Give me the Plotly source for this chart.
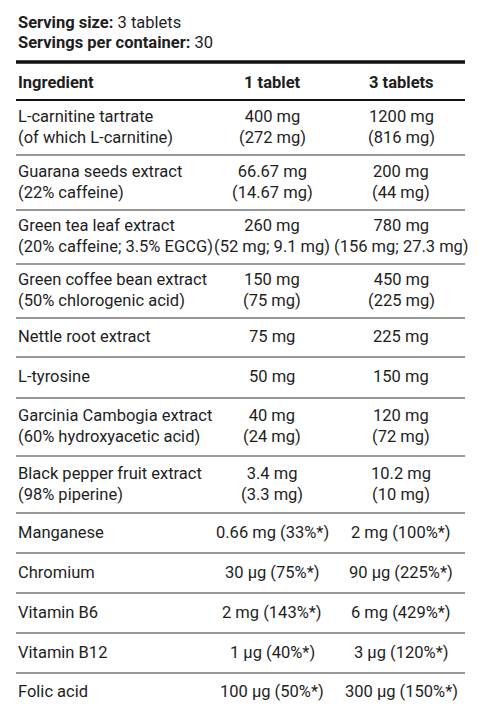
import plotly.graph_objects as go

ingredients = ["L-carnitine tartrate<br>(of which L-carnitine)", "Guarana seeds extract<br>(22% caffeine)",
               "Green tea leaf extract<br>(20% caffeine; 3.5% EGCG)", "Green coffee bean extract<br>(50% chlorogenic acid)",
               "Nettle root extract", "L-tyrosine", "Garcinia Cambogia extract<br>(60% hydroxyacetic acid)",
               "Black pepper fruit extract<br>(98% piperine)", "Manganese", "Chromium", "Vitamin B6", "Vitamin B12", "Folic acid"]
per_1_tablet = ["400 mg<br>(272 mg)", "66.67 mg<br>(14.67 mg)", "260 mg<br>(52 mg; 9.1 mg)", "150 mg<br>(75 mg)",
                "75 mg", "50 mg", "40 mg<br>(24 mg)", "3.4 mg<br>(3.3 mg)", "0.66 mg (33%*)", "30 µg (75%*)",
                "2 mg (143%*)", "1 µg (40%*)", "100 µg (50%*)"]
per_3_tablets = ["1200 mg<br>(816 mg)", "200 mg<br>(44 mg)", "780 mg<br>(156 mg; 27.3 mg)", "450 mg<br>(225 mg)",
                 "225 mg", "150 mg", "120 mg<br>(72 mg)", "10.2 mg<br>(10 mg)", "2 mg (100%*)", "90 µg (225%*)",
                 "6 mg (429%*)", "3 µg (120%*)", "300 µg (150%*)"]
headers = ["Ingredient", "1 tablet", "3 tablets"]
serving_size = "3 tablets"
servings_per_container = "30"

# layout (pixel positions in the 480x715 window)
seps = [100, 155, 210, 264, 318, 357, 398, 456, 513, 553, 593, 633, 673, 715]
XL, XR, C1, C2 = 16, 465, 272, 401
FONT = dict(family="Roboto", size=16.5, color="#1e1e1e")
OFF = 8  # default page body margin

fig = go.Figure()
ann = []
def add(x, y, t, anchor="left"):
    ann.append(dict(x=x, y=y, xref="x", yref="y", text=t, showarrow=False, xanchor=anchor,
                    yanchor="middle", align=anchor if anchor != "center" else "center", font=FONT))

add(XL, 22, f"<b>Serving size:</b> {serving_size}")
add(XL, 42, f"<b>Servings per container:</b> {servings_per_container}")
add(XL, 82, f"<b>{headers[0]}</b>")
add(C1, 82, f"<b>{headers[1]}</b>", "center")
add(C2, 82, f"<b>{headers[2]}</b>", "center")

shapes = [dict(type="line", x0=XL, x1=XR, y0=62, y1=62, xref="x", yref="y", line=dict(color="#111", width=3.5)),
          dict(type="line", x0=XL, x1=XR, y0=100, y1=100, xref="x", yref="y", line=dict(color="#111", width=2))]
for i, (a, b, c) in enumerate(zip(ingredients, per_1_tablet, per_3_tablets)):
    yc = (seps[i] + seps[i + 1]) / 2 - (1 if i < 12 else 3)
    add(XL, yc, a)
    add(C1, yc, b, "center")
    add(C2, yc, c, "center")
    if i < 12:
        shapes.append(dict(type="line", x0=XL, x1=XR, y0=seps[i + 1], y1=seps[i + 1], xref="x", yref="y",
                           line=dict(color="#333", width=1.2)))

fig.update_layout(width=480 - OFF, height=715 - OFF, margin=dict(l=0, r=0, t=0, b=0),
                  paper_bgcolor="white", plot_bgcolor="white",
                  xaxis=dict(range=[OFF, 480], visible=False, fixedrange=True),
                  yaxis=dict(range=[715, OFF], visible=False, fixedrange=True),
                  annotations=ann, shapes=shapes, showlegend=False)
fig.write_html("out.html", config={"displayModeBar": False})
